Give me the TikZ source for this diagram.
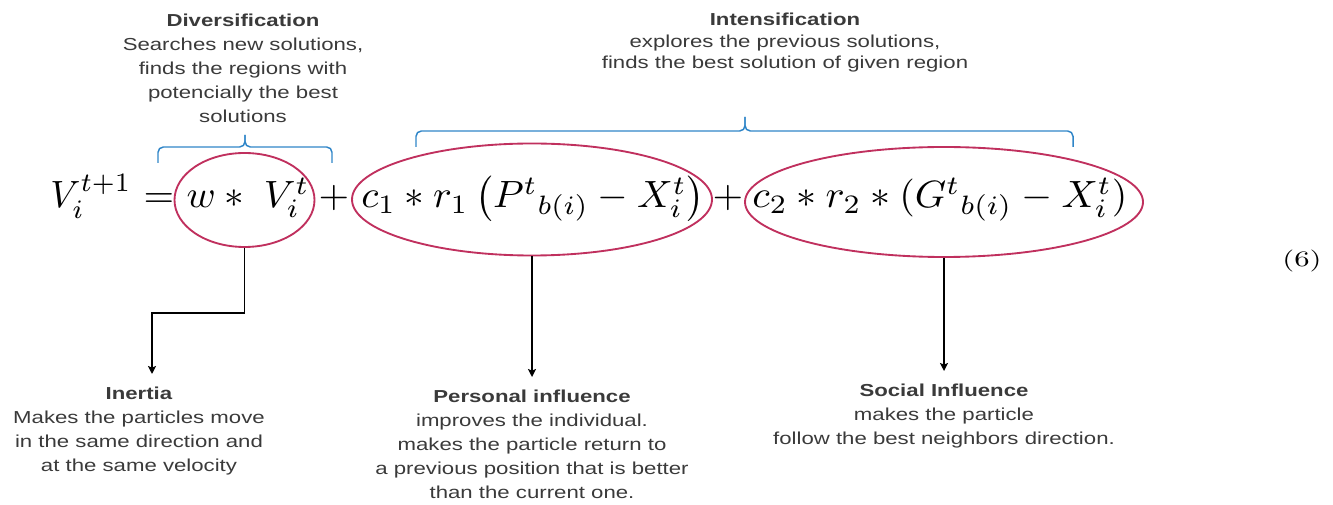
\documentclass[tikz,border=0pt]{standalone}
\usepackage{fontspec}
\usepackage{graphicx}
\usetikzlibrary{arrows.meta,shapes.geometric}
\setsansfont[FakeStretch=1.28]{Liberation Sans}
\definecolor{PsoRed}{HTML}{C0305E}
\definecolor{PsoBlue}{HTML}{2F85C8}
\definecolor{PsoText}{HTML}{3A3A3A}
\newcommand{\eqpart}[2][2.95]{\scalebox{#1}[2.85]{$#2$}}
\tikzset{
  >=Stealth,
  termellipse/.style={ellipse,draw=PsoRed,line width=1.4pt,inner sep=0pt},
  mathpart/.style={anchor=base,inner sep=0pt},
  labelnote/.style={anchor=north,align=center,inner sep=0pt,text=PsoText,
    font=\fontsize{13pt}{18pt}\sffamily},
  effectnote/.style={labelnote,outer ysep=10pt},
  flow/.style={-{Stealth[length=6pt,width=6pt,inset=1.2pt]},line width=1.1pt,draw=black},
  bracket/.style={draw=PsoBlue,line width=1.1pt,rounded corners=4pt}
}
\begin{document}
\begin{tikzpicture}[x=0.75pt,y=-0.75pt]
  \useasboundingbox (0,0) rectangle (1333,505);

  % the velocity update
  \node[mathpart] (lhs) at (91,208) {\eqpart[2.8]{V_i^{t+1}}};
  \node[mathpart] (eqsign) at (159,208) {\eqpart{=}};
  \node[mathpart] (inertiamath) at (248,208) {\eqpart{w \ast\; V_i^t}};
  \node[mathpart] (plusone) at (334,208) {\eqpart{+}};
  \node[mathpart] (personalmath) at (533,208) {\eqpart{c_1 \ast r_1\,\bigl(P^t{}_{b(i)} - X_i^t\bigr)}};
  \node[mathpart] (plustwo) at (728,208) {\eqpart{+}};
  \node[mathpart] (socialmath) at (940,208) {\eqpart[3.0]{c_2 \ast r_2 \ast (G^t{}_{b(i)} - X_i^t)}};
  \node[mathpart] (eqnum) at (1302,267) {\scalebox{2.3}[1.65]{(6)}};

  \node[termellipse,minimum width=105pt,minimum height=70.5pt] (inertiaterm) at (244.5,200) {};
  \node[termellipse,minimum width=270pt,minimum height=84pt] (personalterm) at (532,199.5) {};
  \node[termellipse,minimum width=298.5pt,minimum height=82.5pt] (socialterm) at (944,202) {};

  % braces
  \draw[bracket] (158,163) -- (158,147) -- (245,147) -- (245,135);
  \draw[bracket] (332,163) -- (332,147) -- (245,147) -- (245,135);
  \draw[bracket] (416,147) -- (416,131) -- (745,131) -- (745,117);
  \draw[bracket] (1073,147) -- (1073,131) -- (745,131) -- (745,117);

  \node[labelnote] (diversification) at (243,14) {\textbf{Diversification}\\Searches new solutions,\\finds the regions with\\potencially the best\\solutions};
  \node[labelnote,font=\fontsize{13pt}{16pt}\sffamily] (intensification) at (785,13) {\textbf{Intensification}\\explores the previous solutions,\\finds the best solution of given region};

  \node[effectnote] (inertia) at (139,374) {\textbf{Inertia}\\Makes the particles move\\in the same direction and\\at the same velocity};
  \node[effectnote] (personal) at (532,377) {\textbf{Personal influence}\\improves the individual.\\makes the particle return to\\a previous position that is better\\than the current one.};
  \node[effectnote] (social) at (944,371) {\textbf{Social Influence}\\makes the particle\\follow the best neighbors direction.};

  \draw[flow] (inertiaterm.south) -- ++(0,65) -| ([xshift=9.75pt]inertia.north);
  \draw[flow] (personalterm.south) -- (personal.north);
  \draw[flow] (socialterm.south) -- (social.north);
\end{tikzpicture}
\end{document}
